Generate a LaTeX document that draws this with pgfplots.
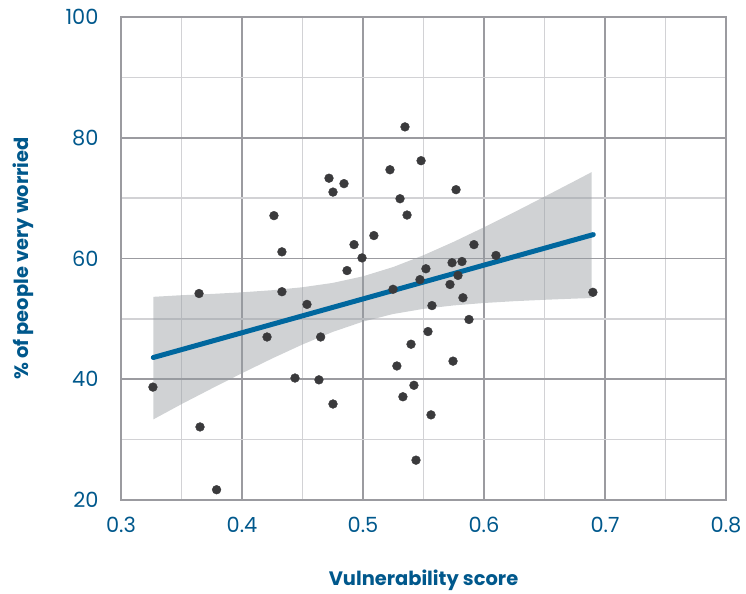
\documentclass[border=0pt]{standalone}
\usepackage{fontspec}
\setmainfont{Poppins}
\usepackage{pgfplots}
\pgfplotsset{compat=1.18}
\definecolor{tickblue}{RGB}{0,88,140}
\definecolor{lineblue}{RGB}{0,103,158}
\definecolor{majgrid}{RGB}{155,155,160}
\definecolor{mingrid}{RGB}{210,210,213}
\definecolor{dotgray}{RGB}{58,58,60}
\definecolor{bandgray}{RGB}{150,155,160}
\begin{document}
\begin{tikzpicture}
\path[use as bounding box] (-121bp,-94bp) rectangle (625bp,500bp);
\begin{axis}[
  scale only axis,
  width=605bp, height=483bp,
  xmin=0.3, xmax=0.8, ymin=20, ymax=100,
  xtick={0.3,0.4,...,0.8},
  ytick={20,40,...,100},
  minor xtick={0.35,0.45,...,0.75},
  minor ytick={30,50,70,90},
  grid=both,
  major grid style={draw=majgrid, line width=1.8bp},
  minor grid style={draw=mingrid, line width=1.3bp},
  axis line style={draw=majgrid, line width=1.8bp},
  tick style={draw=none},
  /pgf/number format/assume math mode=true,
  /pgf/number format/fixed,
  /pgf/number format/precision=1,
  ticklabel style={font=\fontsize{21}{24}\selectfont, text=tickblue},
  xticklabel style={yshift=-14bp},
  yticklabel style={xshift=-19bp},
  xlabel={\textbf{Vulnerability score}},
  ylabel={\textbf{\% of people very worried}},
  label style={font=\fontsize{19.5}{22}\selectfont, text=tickblue},
  xlabel style={at={(rel axis cs:0.5,0)}, anchor=base, yshift=-85bp},
  ylabel style={at={(rel axis cs:0,0.5)}, anchor=center, yshift=98bp},
  clip=false,
]
% confidence band
\addplot[draw=none, fill=bandgray, fill opacity=0.45] coordinates {
(0.3267,53.65) (0.35,53.92) (0.375,54.13) (0.40,54.40) (0.425,54.75) (0.45,55.24)
(0.475,55.96) (0.50,57.05) (0.525,58.59) (0.55,60.54) (0.575,62.77) (0.60,65.17)
(0.625,67.67) (0.65,70.24) (0.675,72.84) (0.689,74.31)
(0.689,53.45) (0.675,53.36) (0.65,53.16) (0.625,52.93) (0.60,52.63) (0.575,52.23)
(0.55,51.66) (0.525,50.81) (0.50,49.55) (0.475,47.84) (0.45,45.76) (0.425,43.45)
(0.40,41.00) (0.375,38.47) (0.35,35.88) (0.3267,33.35)
} -- cycle;
% regression line
\addplot[draw=lineblue, line width=5bp, line cap=round] coordinates {(0.3267,43.6) (0.6903,63.96)};
% points
\addplot[only marks, mark=*, mark size=4.4bp, mark options={draw=dotgray, fill=dotgray}] coordinates {
(0.3264,38.7) (0.3645,54.2) (0.3653,32.1) (0.379,21.7) (0.4207,47.0) (0.4264,67.1)
(0.433,61.1) (0.433,54.5) (0.4438,40.2) (0.4537,52.4) (0.4636,39.9) (0.465,47.0)
(0.4719,73.3) (0.4752,71.0) (0.4752,35.9) (0.4843,72.4) (0.4868,58.0) (0.4926,62.3)
(0.4992,60.1) (0.509,63.8) (0.5223,74.7) (0.5248,54.9) (0.528,42.2) (0.5306,69.9)
(0.533,37.1) (0.5347,81.8) (0.5364,67.2) (0.5397,45.8) (0.5421,39.0) (0.5438,26.6)
(0.5471,56.5) (0.548,76.2) (0.552,58.3) (0.5537,47.9) (0.5562,34.1) (0.557,52.2)
(0.5719,55.7) (0.5736,59.3) (0.5744,43.0) (0.5769,71.4) (0.5785,57.2) (0.5818,59.5)
(0.5826,53.5) (0.5876,49.9) (0.5917,62.3) (0.6099,60.5) (0.690,54.4)
};
\end{axis}
\end{tikzpicture}
\end{document}
